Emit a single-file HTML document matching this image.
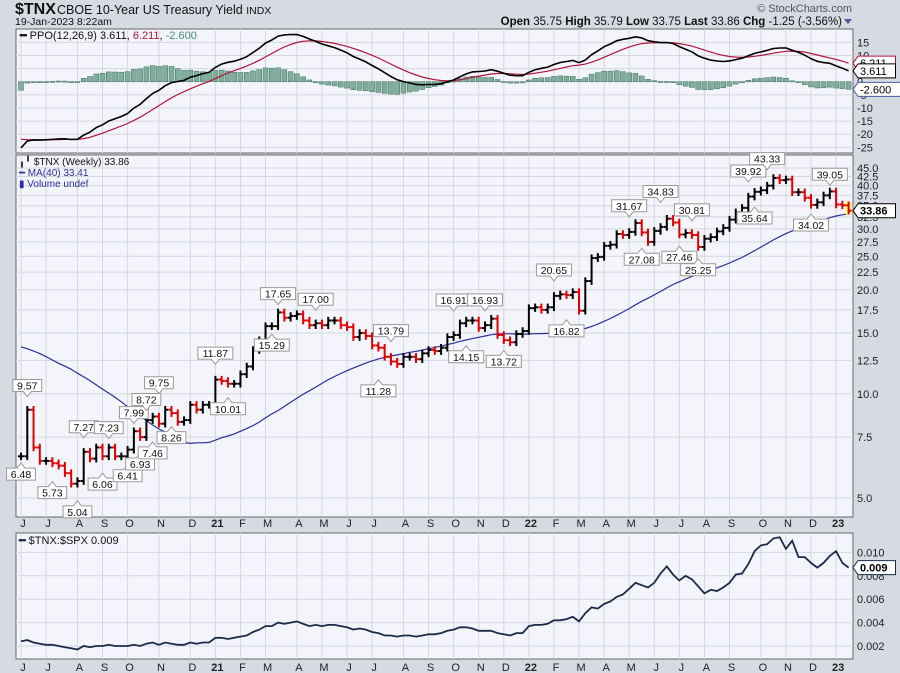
<!DOCTYPE html>
<html><head><meta charset="utf-8">
<style>
html,body{margin:0;padding:0;background:#d6dae2;}
svg{display:block;font-family:"Liberation Sans",sans-serif;}
</style></head>
<body>
<svg id="c" width="900" height="673" viewBox="0 0 900 673" xmlns="http://www.w3.org/2000/svg">
<rect x="0" y="0" width="900" height="673" fill="#d6dae2"/>
<text x="15" y="14" font-size="16" font-weight="bold" fill="#111">$TNX</text>
<text x="57" y="14" font-size="12.5" fill="#111">CBOE 10-Year US Treasury Yield <tspan font-size="10.5">INDX</tspan></text>
<text x="15" y="25" font-size="10.5" fill="#111">19-Jan-2023 8:22am</text>
<text x="852" y="12" font-size="11" fill="#555" text-anchor="end">© StockCharts.com</text>
<text x="842" y="25" font-size="11.5" fill="#111" text-anchor="end"><tspan font-weight="bold">Open</tspan> 35.75  <tspan font-weight="bold">High</tspan> 35.79  <tspan font-weight="bold">Low</tspan> 33.75  <tspan font-weight="bold">Last</tspan> 33.86  <tspan font-weight="bold">Chg</tspan> -1.25 (-3.56%)</text>
<path d="M844,19 L852,19 L848,24 Z" fill="#4a5a9a"/>
<g id="g"></g>
</svg>
<script>
// ---------- DATA ----------
const preCloses=[15.6,15.2,15.5,17.2,17.3,17.0,15.3,15.6,17.5,18.0,17.4,19.4,18.3,17.7,17.8,18.2,18.9,19.2,18.8,18.2,18.3,16.8,15.1,15.9,15.8,14.7,11.3,7.7,9.4,8.5,6.7,5.9,7.4,6.5,6.0,6.4,6.9,6.4,6.6];
const closes=[6.6,9.0,7.0,6.4,
6.4,6.3,6.2,5.9,5.5,
5.6,6.8,6.5,7.0,
6.6,7.0,6.6,6.6,
6.9,7.8,7.5,8.4,8.6,
8.2,9.0,8.8,8.3,8.4,
9.3,9.0,9.3,9.3,
11.0,10.9,10.7,10.7,
11.4,12.0,13.4,14.3,
15.7,15.7,17.2,16.6,16.8,
17.0,16.3,15.8,16.0,
15.8,16.3,16.3,15.8,
15.6,14.6,15.0,14.7,
13.8,13.6,12.8,12.4,12.2,
12.8,12.8,12.6,13.1,
13.4,13.3,13.6,14.6,
14.8,16.0,16.3,16.3,
15.5,15.8,16.5,14.8,
14.3,14.1,14.9,15.2,
17.7,17.8,17.5,17.8,
19.2,19.4,19.3,19.7,
17.4,21.2,24.7,24.9,
26.8,27.0,29.0,28.8,
29.4,31.2,29.3,27.5,
29.6,30.4,32.1,31.3,
28.9,29.2,28.8,26.6,
28.1,28.4,29.5,30.2,
31.9,33.5,34.5,37.2,38.4,
38.8,40.0,42.1,41.5,
41.7,38.3,38.3,36.9,
35.2,35.8,37.5,38.5,
35.3,35.1,33.86];
const ratioX1000=[2.4,2.5,2.3,2.2,
2.1,2.1,2.0,1.9,1.8,
1.7,2.0,1.9,2.0,
2.0,2.1,2.0,2.0,
2.0,2.1,2.0,2.2,2.3,
2.1,2.3,2.2,2.1,2.1,
2.3,2.2,2.3,2.3,
2.7,2.7,2.6,2.7,
2.8,2.9,3.2,3.4,
3.7,3.7,4.0,3.9,4.0,
4.1,3.9,3.7,3.8,
3.7,3.8,3.8,3.7,
3.6,3.4,3.5,3.4,
3.2,3.1,2.9,2.9,2.8,
2.9,2.9,2.8,2.9,
3.0,3.0,3.1,3.3,
3.4,3.6,3.6,3.5,
3.3,3.3,3.3,3.1,
3.0,2.9,3.1,3.1,
3.7,3.8,3.8,3.9,
4.2,4.2,4.3,4.5,
4.1,4.8,5.3,5.2,
5.6,5.8,6.2,6.4,
6.9,7.4,7.2,7.0,
7.4,8.2,8.8,8.1,
7.6,8.0,7.7,7.1,
6.5,6.8,6.7,7.0,
7.4,8.1,8.2,9.0,10.1,
10.6,10.7,11.2,11.3,
10.3,11.0,9.6,9.6,
9.1,8.7,9.1,9.7,
10.1,9.1,8.7];
const monthLabels=["J","J","A","S","O","N","D","21","F","M","A","M","J","J","A","S","O","N","D","22","F","M","A","M","J","J","A","S","O","N","D","23"];
const monthWeek=[0,4,9,13,17,22,27,31,35,39,44,48,52,56,61,65,69,73,77,81,85,89,93,97,101,105,109,113,118,122,126,130];
const annIdx=[0,1,5,9,10,13,14,17,19,18,21,20,24,22,33,31,41,40,47,57,59,69,71,74,77,85,87,97,99,102,105,107,108,117,116,119,126,129];
const annVal=[6.48,9.57,5.73,5.04,7.27,6.06,7.23,6.41,6.93,7.99,7.46,8.72,8.26,9.75,10.01,11.87,17.65,15.29,17.00,11.28,13.79,16.91,14.15,16.93,13.72,20.65,16.82,31.67,27.08,34.83,27.46,30.81,25.25,35.64,39.92,43.33,34.02,39.05];
const annHigh=[0,1,0,0,1,0,1,0,0,1,0,1,0,1,0,1,1,0,1,0,1,1,0,1,0,1,0,1,0,1,0,1,0,0,1,1,0,1];
const priceTicks=[5.0,7.5,10.0,12.5,15.0,17.5,20.0,22.5,25.0,27.5,30.0,32.5,35.0,37.5,40.0,42.5,45.0];
const ppoTicks=[15,10,5,0,-5,-10,-15,-20,-25];
const ratioTicks=[0.002,0.004,0.006,0.008,0.010];

// ---------- LAYOUT ----------
const NS="http://www.w3.org/2000/svg";
const G=document.getElementById('g');
function el(t,a,p){const e=document.createElementNS(NS,t);for(const k in a)e.setAttribute(k,a[k]);(p||G).appendChild(e);return e;}
const L=16,R=853;
const xw=i=>21+i*6.27;
const P1={t:29,b:153}, P2={t:155,b:517}, P3={t:533,b:659};
const yPrice=v=>498-150.2*Math.log(v/5);
const yPPO=v=>81.7-2.625*v;
const yRatio=v=>646-(v-0.002)*11700;

function panel(P,name){
  const r=el('rect',{x:L,y:P.t,width:R-L,height:P.b-P.t,fill:'#f4f5fa',stroke:'#666','stroke-width':1});
  
  
  monthWeek.forEach(w=>{const g=el('line',{x1:xw(w),x2:xw(w),y1:P.t,y2:P.b,stroke:'#d4d7e0','stroke-width':1});
    
    });
}
panel(P1,'ppo-panel');panel(P2,'price-panel');panel(P3,'ratio-panel');

// ---------- PPO ----------
const all=preCloses.concat(closes);
function ema(arr,n){const k=2/(n+1);const o=[];let e=arr[0];arr.forEach((v,i)=>{e=i?v*k+e*(1-k):v;o.push(e);});return o;}
const e12=ema(all,12),e26=ema(all,26);
const ppoAll=all.map((v,i)=>(e12[i]-e26[i])/e26[i]*100);
const sigAll=ema(ppoAll,9);
const off=preCloses.length;
ppoTicks.forEach(t=>{const y=yPPO(t);
  const g=el('line',{x1:L,x2:R,y1:y,y2:y,stroke:'#d4d7e0'});
  
  
  const tx=el('text',{x:857,y:y+4,'font-size':11,fill:'#222'});tx.textContent=t;
  
  });
closes.forEach((c,i)=>{const h=ppoAll[off+i]-sigAll[off+i];const y0=yPPO(0),y1=yPPO(h);
  const b=el('rect',{x:xw(i)-2.5,y:Math.min(y0,y1),width:5,height:Math.max(1,Math.abs(y1-y0)),fill:'#7fae9c',stroke:'#3f6f5e','stroke-width':0.5});
  
  });
let ps='',ss='';
closes.forEach((c,i)=>{ps+=(i?'L':'M')+xw(i).toFixed(1)+','+yPPO(ppoAll[off+i]).toFixed(1);ss+=(i?'L':'M')+xw(i).toFixed(1)+','+yPPO(sigAll[off+i]).toFixed(1);});
const sl=el('path',{d:ss,fill:'none',stroke:'#b0163a','stroke-width':1.2});


const pl=el('path',{d:ps,fill:'none',stroke:'#000','stroke-width':1.6});


const lt=el('text',{x:20,y:39,'font-size':11,fill:'#111'});
lt.innerHTML='<tspan font-weight="bold">━</tspan> PPO(12,26,9) 3.611, <tspan fill="#b0163a">6.211</tspan>, <tspan fill="#3f8f7a">-2.600</tspan>';


function flag(y,txt,stroke,name,bold,fs){
  const g=el('g',{});
  
  
  const w=txt.length*6.3+6;
  el('path',{d:`M853,${y} L858,${y-7} L${858+w},${y-7} L${858+w},${y+7} L858,${y+7} Z`,fill:'#fff',stroke:stroke,'stroke-width':1},g);
  const t=el('text',{x:860,y:y+4,'font-size':fs||11,fill:'#000','font-weight':bold?'bold':'normal'},g);t.textContent=txt;
}
const lastI=off+closes.length-1;
flag(yPPO(sigAll[lastI]),'6.211','#b0163a','ppo-signal-value-flag');
flag(yPPO(ppoAll[lastI]),'3.611','#000','ppo-value-flag');
flag(yPPO(ppoAll[lastI]-sigAll[lastI]),'-2.600','#4a5aa0','ppo-histogram-value-flag');

// ---------- PRICE ----------
priceTicks.forEach(t=>{const y=yPrice(t);
  const g=el('line',{x1:L,x2:R,y1:y,y2:y,stroke:'#d4d7e0'});
  
  
  const tx=el('text',{x:857,y:y+4,'font-size':11,fill:'#222'});tx.textContent=t.toFixed(1);
  
  });
let md='';
closes.forEach((c,i)=>{const s=all.slice(off+i-39,off+i+1);const m=s.reduce((a,b)=>a+b,0)/s.length;md+=(i?'L':'M')+xw(i).toFixed(1)+','+yPrice(m).toFixed(1);});
const ma=el('path',{d:md,fill:'none',stroke:'#2a2e9a','stroke-width':1.2});


closes.forEach((c,i)=>{
  const o=i?closes[i-1]:preCloses[preCloses.length-1];
  const hi=Math.max(o,c)*1.025,lo=Math.min(o,c)*0.975;
  const col=c<o?'#e00000':'#000';const x=xw(i);
  const g=el('g',{});
  
  
  if(i===closes.length-1)el('rect',{x:x-3,y:yPrice(hi),width:6,height:yPrice(lo)-yPrice(hi),fill:'#ffff60'},g);
  el('line',{x1:x,x2:x,y1:yPrice(hi),y2:yPrice(lo),stroke:col,'stroke-width':2},g);
  el('line',{x1:x-3,x2:x,y1:yPrice(o),y2:yPrice(o),stroke:col,'stroke-width':2},g);
  el('line',{x1:x,x2:x+3,y1:yPrice(c),y2:yPrice(c),stroke:col,'stroke-width':2},g);
});
annIdx.forEach((w,k)=>{
  const v=annVal[k],x=xw(w),txt=v.toFixed(2),bw=txt.length*6.2+4;
  const g=el('g',{});
  
  
  let y=yPrice(v*(annHigh[k]?1.02:0.98));
  if(annHigh[k]){const by=y-18;
    el('path',{d:`M${x-bw/2},${by} h${bw} v12 h${-bw/2+4} l-4,5 l-4,-5 h${-bw/2+4} Z`,fill:'#fff',stroke:'#999'},g);
    const t=el('text',{x:x,y:by+10,'font-size':10.5,'text-anchor':'middle',fill:'#111'},g);t.textContent=txt;
  }else{const by=y+6;
    el('path',{d:`M${x-bw/2},${by} h${bw/2-4} l4,-5 l4,5 h${bw/2-4} v12 h${-bw} Z`,fill:'#fff',stroke:'#999'},g);
    const t=el('text',{x:x,y:by+10,'font-size':10.5,'text-anchor':'middle',fill:'#111'},g);t.textContent=txt;
  }
});
flag(yPrice(closes[closes.length-1]),'33.86','#000','last-price-flag',true,11);
const l2=el('text',{x:19,y:165,'font-size':10,fill:'#111'});l2.textContent='╻╹ $TNX (Weekly) 33.86';


const l3=el('text',{x:19,y:176,'font-size':10,fill:'#2a2e9a'});l3.textContent='━ MA(40) 33.41';


const l4=el('text',{x:19,y:187,'font-size':10,fill:'#2a2e9a'});l4.textContent='▮ Volume undef';



// ---------- X AXES ----------
[522,666].forEach(yy=>{
  monthLabels.forEach((m,k)=>{const t=el('text',{x:xw(monthWeek[k])+2,y:yy+5,'font-size':11,'text-anchor':'middle',fill:'#222','font-weight':/\d/.test(m)?'bold':'normal'});t.textContent=m;
    
    });
});

// ---------- RATIO ----------
ratioTicks.forEach(t=>{const y=yRatio(t);
  const g=el('line',{x1:L,x2:R,y1:y,y2:y,stroke:'#d4d7e0'});
  
  
  const tx=el('text',{x:857,y:y+4,'font-size':11,fill:'#222'});tx.textContent=t.toFixed(3);
  
  });
let rd='';
ratioX1000.forEach((v,i)=>{rd+=(i?'L':'M')+xw(i).toFixed(1)+','+yRatio(v/1000).toFixed(1);});
const rl=el('path',{d:rd,fill:'none',stroke:'#1c2a4a','stroke-width':1.8});


flag(yRatio(ratioX1000[ratioX1000.length-1]/1000),'0.009','#1c2a4a','ratio-value-flag',true,11);
const l5=el('text',{x:19,y:544,'font-size':11,fill:'#111'});l5.innerHTML='<tspan fill="#1c2a4a" font-weight="bold">━</tspan> $TNX:$SPX 0.009';


</script>
</body></html>
